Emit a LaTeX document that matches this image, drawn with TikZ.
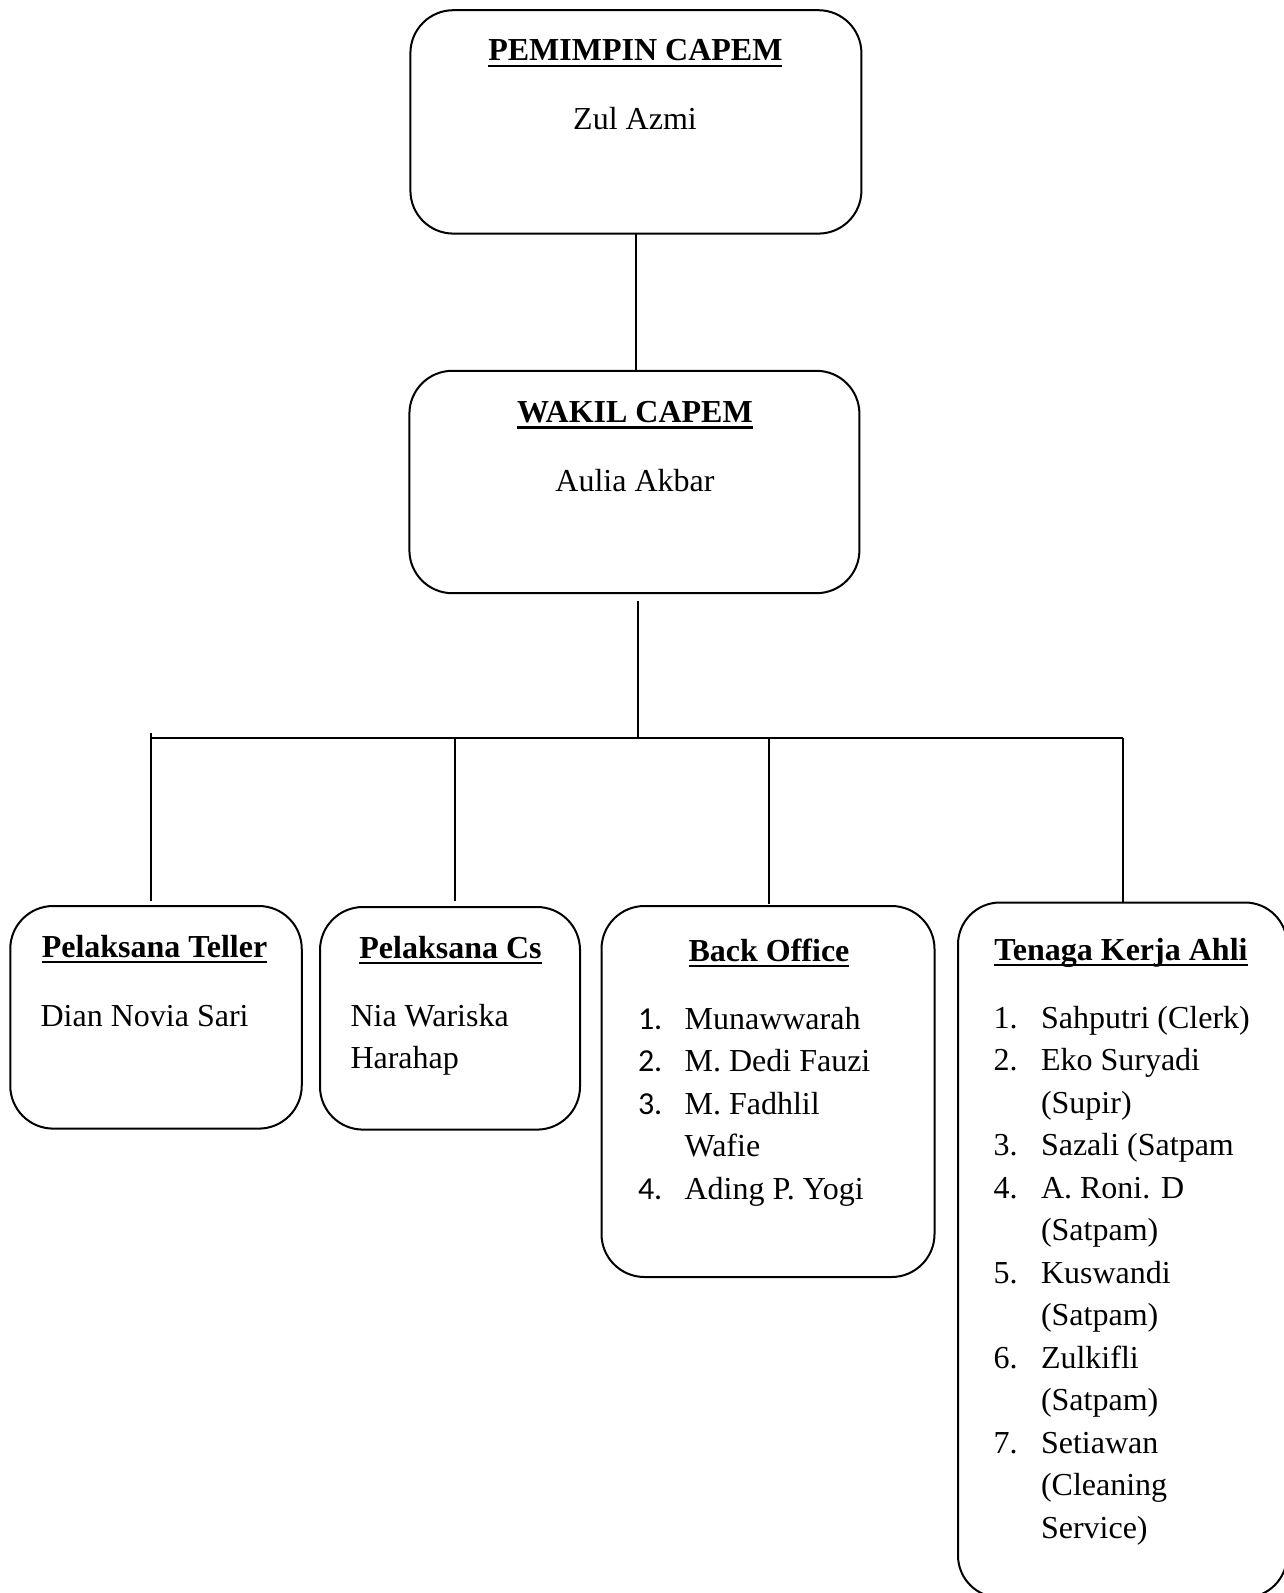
\documentclass[tikz,border=0pt]{standalone}
\usepackage{fontspec}
\setmainfont{Liberation Serif}
\newfontfamily\numfont{Carlito}
\newcommand\hd[1]{\setbox0\hbox{\bfseries #1}\rlap{\rule[-3.2pt]{\wd0}{1.3pt}}\box0}
\begin{document}
\begin{tikzpicture}[x=0.5pt,y=-0.5pt,
  box/.style={draw, line width=1pt, rounded corners=21.5pt, inner sep=0pt, outer sep=0pt},
  txt/.style={inner sep=0pt, outer sep=0pt, font=\fontsize{16}{21.25}\selectfont},
  numtxt/.style={inner sep=0pt, outer sep=0pt, font=\numfont\fontsize{16}{21.25}\selectfont},
  link/.style={line width=1pt}]
\useasboundingbox (0,0) rectangle (1283,1593);
% boxes
\node[box, minimum width=225.5pt, minimum height=111.7pt] (pc) at (635.9,121.9) {};
\node[box, minimum width=225pt, minimum height=111.2pt] (wc) at (634.4,482) {};
\node[box, minimum width=145.75pt, minimum height=111.3pt] (t1) at (156,1017.3) {};
\node[box, minimum width=130pt, minimum height=111.3pt] (t2) at (450,1018.3) {};
\node[box, minimum width=166.5pt, minimum height=185.5pt] (t3) at (768,1091.5) {};
\node[box, rounded corners=21pt, minimum width=164.5pt, minimum height=347.5pt] (t4) at (1122.5,1250) {};
% texts
\node[txt, anchor=base] (pct) at (635.4,61) {\hd{PEMIMPIN CAPEM}};
\node[txt, anchor=base] (pcn) at (635,130) {Zul Azmi};
\node[txt, anchor=base] (wct) at (635,422.5) {\hd{WAKIL CAPEM}};
\node[txt, anchor=base] (wcn) at (635,491.6) {Aulia Akbar};
\node[txt, anchor=base] (t1t) at (154.5,957) {\hd{Pelaksana Teller}};
\node[txt, anchor=base west] (t1n) at (40.6,1026) {Dian Novia Sari};
\node[txt, anchor=base] (t2t) at (450.5,958) {\hd{Pelaksana Cs}};
\node[txt, anchor=base west] (t2n) at (350.5,1026) {\begin{tabular}[t]{@{}l@{}}Nia Wariska\\Harahap\end{tabular}};
\node[txt, anchor=base] (t3t) at (769,961) {\hd{Back Office}};
\node[numtxt, anchor=base west] (t3num) at (638,1029) {\begin{tabular}[t]{@{}l@{}}1.\\2.\\3.\\ \\4.\end{tabular}};
\node[txt, anchor=base west] (t3n) at (684.6,1029) {\begin{tabular}[t]{@{}l@{}}Munawwarah\\M. Dedi Fauzi\\M. Fadhlil\\Wafie\\Ading P. Yogi\end{tabular}};
\node[txt, anchor=base] (t4t) at (1121,960) {\hd{Tenaga Kerja Ahli}};
\node[txt, anchor=base west] (t4num) at (993.5,1028) {\begin{tabular}[t]{@{}l@{}}1.\\2.\\ \\3.\\4.\\ \\5.\\ \\6.\\ \\7.\\ \\ \end{tabular}};
\node[txt, anchor=base west] (t4n) at (1041,1028) {\begin{tabular}[t]{@{}l@{}}Sahputri (Clerk)\\Eko Suryadi\\(Supir)\\Sazali (Satpam\\A. Roni. D\\(Satpam)\\Kuswandi\\(Satpam)\\Zulkifli\\(Satpam)\\Setiawan\\(Cleaning\\Service)\end{tabular}};
% connectors
\coordinate (wcb) at (638,601.4);
\coordinate (hj) at (638,737.5);
\coordinate (hl) at (151.4,737.5);
\coordinate (hr) at (1122.5,737.5);
\coordinate (b1) at (151.4,733.4);
\coordinate (b2) at (455,737.5);
\coordinate (b3) at (769,737.5);
\coordinate (b4) at (1122.5,737.5);
\draw[link] (pc.south) -- (pc.south |- wc.north);
\draw[link] (wcb) -- (hj);
\draw[link] (hl) -- (hr);
\draw[link] (b1) -- ([yshift=2.5pt]b1 |- t1.north);
\draw[link] (b2) -- ([yshift=3pt]b2 |- t2.north);
\draw[link] (b3) -- ([yshift=1pt]b3 |- t3.north);
\draw[link] (b4) -- (b4 |- t4.north);
\end{tikzpicture}
\end{document}
